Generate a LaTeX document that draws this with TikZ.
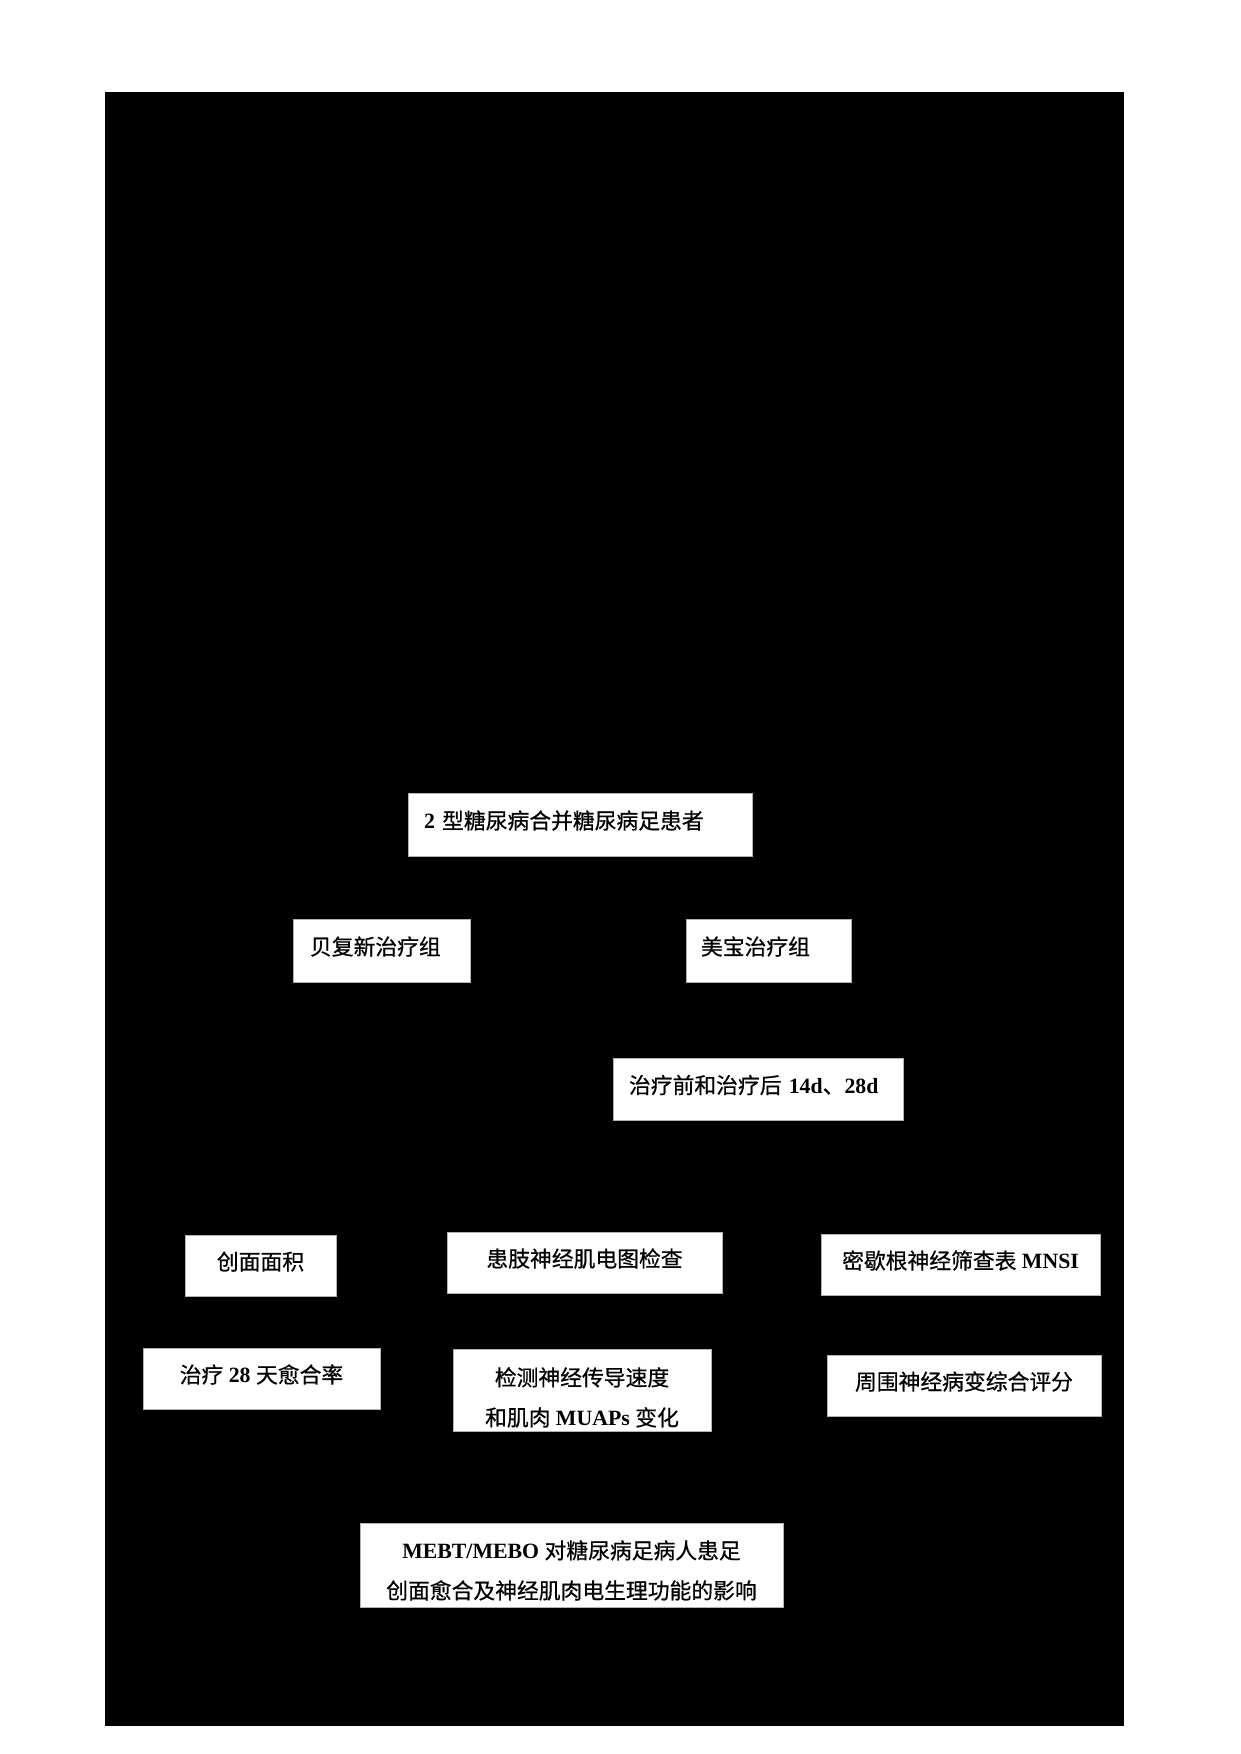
\documentclass[tikz,border=0pt]{standalone}
\usepackage{fontspec}
\setmainfont{Liberation Serif}
\newfontfamily\cjk[FakeBold=0.6]{Noto Sans CJK SC}
\newcommand\boxfont{\fontsize{10.5pt}{19.3pt}\selectfont}
\begin{document}
\begin{tikzpicture}[x=0.4818pt,y=-0.4818pt,
  box/.style={fill=white, draw=gray!60, line width=0.3pt, inner ysep=0pt, outer sep=0pt,
              anchor=north west, font=\boxfont},
  oneline/.style={text height=8pt, text depth=3.8pt},
  boxl/.style={box, oneline, align=left},
  boxc/.style={box, oneline, align=center, inner xsep=0pt},
  boxm/.style={box, align=center, inner xsep=0pt}]
\useasboundingbox (0,0) rectangle (1240,1754);
\fill[black] (105,92) rectangle (1124,1726);
% top part
\node[boxl, minimum width=165.74pt, minimum height=30.35pt, inner xsep=7.71pt, text width=150.32pt]
  (pat) at (408,793) {\textbf{2} {\cjk 型糖尿病合并糖尿病足患者}};
\node[boxl, minimum width=85.28pt, minimum height=30.35pt, inner xsep=8.19pt, text width=68.90pt]
  (bfx) at (293,919) {\cjk 贝复新治疗组};
\node[boxl, minimum width=79.50pt, minimum height=30.35pt, inner xsep=7.23pt, text width=65.04pt]
  (mb) at (686,919) {\cjk 美宝治疗组};
\node[boxl, minimum width=139.72pt, minimum height=29.87pt, inner xsep=7.71pt, text width=124.30pt]
  (time) at (613,1058) {{\cjk 治疗前和治疗后} \textbf{14d}{\cjk 、}\textbf{28d}};
% measures
\node[boxc, minimum width=72.75pt, minimum height=29.39pt] (area) at (185,1235) {\cjk 创面面积};
\node[boxc, minimum width=132.50pt, minimum height=29.39pt] (emg) at (447,1232) {\cjk 患肢神经肌电图检查};
\node[boxc, minimum width=134.42pt, minimum height=29.39pt] (mnsi) at (821,1234) {{\cjk 密歇根神经筛查表} \textbf{MNSI}};
\node[boxc, minimum width=114.19pt, minimum height=29.39pt] (heal) at (143,1348) {{\cjk 治疗} \textbf{28} {\cjk 天愈合率}};
\node[boxm, minimum width=124.30pt, minimum height=39.51pt] (ncv) at (453,1349)
  {\rule{0pt}{16pt}{\cjk 检测神经传导速度}\\{\cjk 和肌肉} \textbf{MUAPs} {\cjk 变化}};
\node[boxc, minimum width=132.01pt, minimum height=29.39pt] (score) at (827,1355) {\cjk 周围神经病变综合评分};
\node[boxm, minimum width=203.80pt, minimum height=40.47pt] (title) at (360,1523)
  {\rule{0pt}{14.1pt}\textbf{MEBT/MEBO} {\cjk 对糖尿病足病人患足}\\{\cjk 创面愈合及神经肌肉电生理功能的影响}};
\end{tikzpicture}
\end{document}
